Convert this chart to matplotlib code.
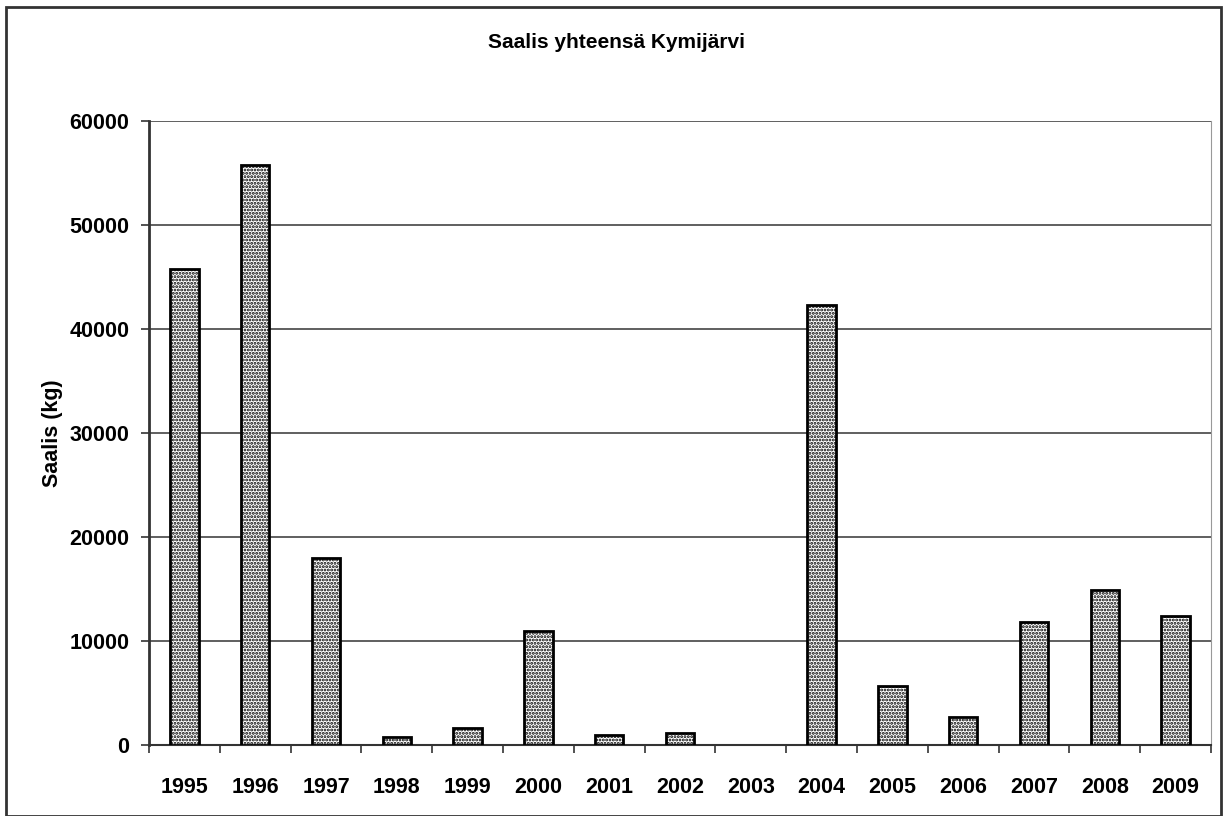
import matplotlib.pyplot as plt
from matplotlib.patches import Rectangle
import numpy as np

plt.rcParams['font.family'] = ['Liberation Sans', 'DejaVu Sans']
plt.rcParams['hatch.linewidth'] = 1.4

# data
years = ['1995', '1996', '1997', '1998', '1999', '2000', '2001', '2002',
         '2003', '2004', '2005', '2006', '2007', '2008', '2009']
saalis = [45750, 55750, 17950, 800, 1600, 11000, 1000, 1150,
          0, 42350, 5700, 2650, 11850, 14950, 12450]
y_ticks = [0, 10000, 20000, 30000, 40000, 50000, 60000]

fig = plt.figure(figsize=(12.23, 8.16), dpi=100)
ax = fig.add_axes([149/1223, 71/816, (1211-149)/1223, (745-121)/816])

x = np.arange(len(years))
bars = ax.bar(x, saalis, width=0.4, color='white', edgecolor='black',
              linewidth=2, hatch='.....', zorder=3)
for b, v in zip(bars, saalis):
    if v == 0:
        b.set_visible(False)

ax.set_xlim(-0.5, len(years) - 0.5)
ax.set_ylim(0, 60000)
ax.set_yticks(y_ticks)
ax.set_yticklabels([str(v) for v in y_ticks], fontsize=15.5, fontweight='bold')
ax.set_xticks(x)
ax.set_xticklabels(years, fontsize=15.5, fontweight='bold')
ax.tick_params(axis='x', which='major', length=0, pad=23)
ax.set_xticks(np.arange(-0.5, len(years)), minor=True)
ax.tick_params(axis='x', which='minor', length=6, width=1.2, color='#333333', direction='out')
ax.tick_params(axis='y', length=6, width=1.2, color='#333333', direction='out', pad=8)

ax.grid(axis='y', color='#444444', linewidth=1.2, zorder=0)
ax.set_axisbelow(True)
ax.spines['top'].set_visible(False)
ax.spines['right'].set_color('#999999')
ax.spines['left'].set_color('#333333')
ax.spines['left'].set_linewidth(2)
ax.spines['bottom'].set_color('#333333')
ax.spines['bottom'].set_linewidth(1.5)

ax.set_ylabel('Saalis (kg)', fontsize=15.5, fontweight='bold', labelpad=5)
fig.text(617/1223, 1 - 42/816, 'Saalis yhteensä Kymijärvi', ha='center', va='center',
         fontsize=15, fontweight='bold')

# outer frame
fig.patches.append(Rectangle((6/1223, 0), 1215/1223, 1 - 7/816, transform=fig.transFigure,
                             fill=False, edgecolor='#333333', linewidth=2))

fig.savefig('out.png', dpi=100)
